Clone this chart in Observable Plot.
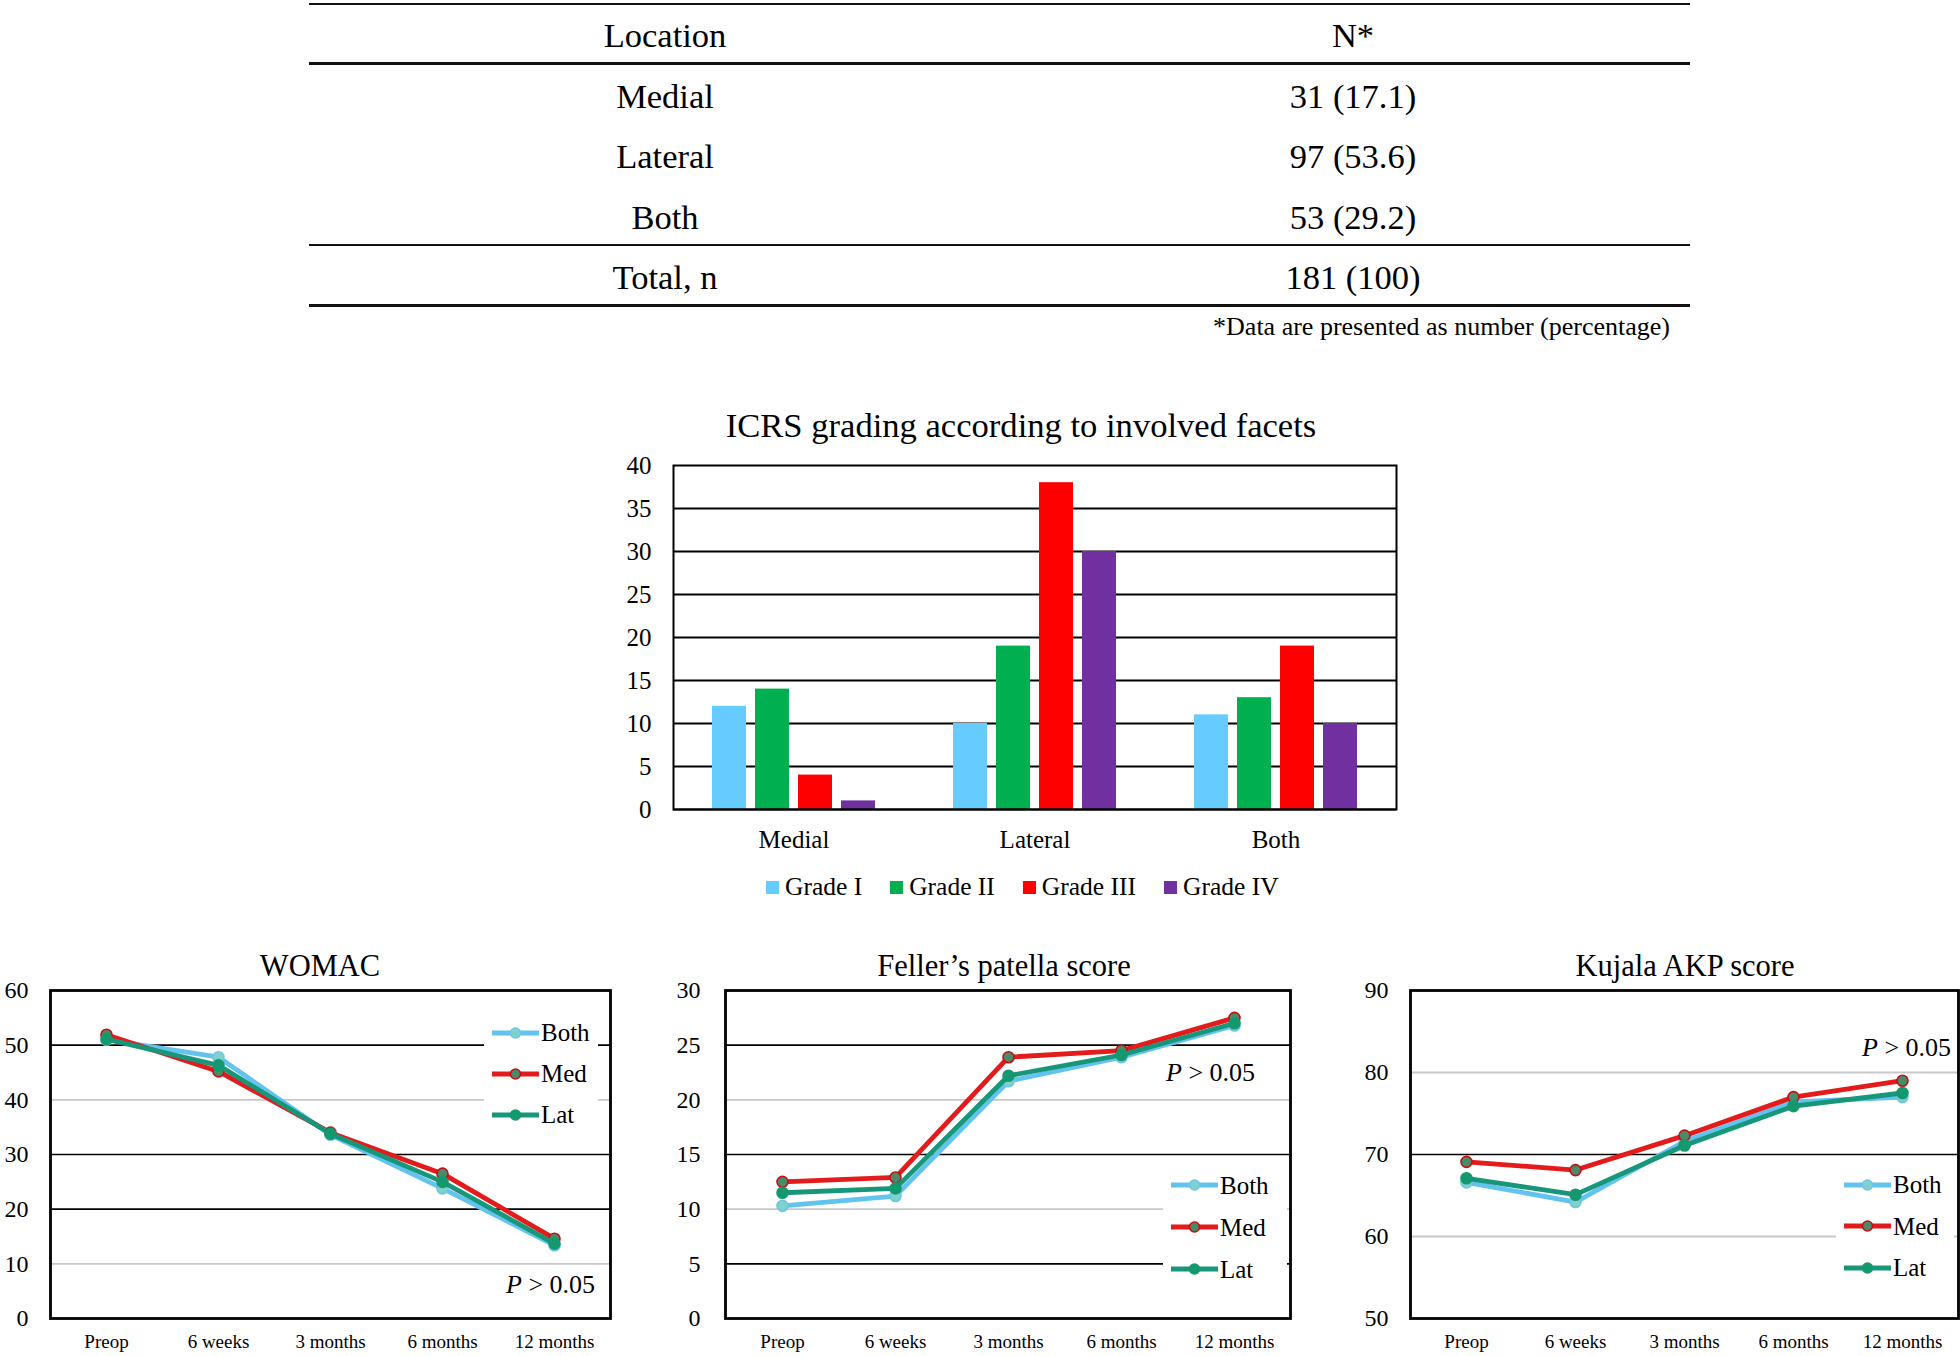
<!DOCTYPE html>
<html><head><meta charset="utf-8">
<script src="https://cdn.jsdelivr.net/npm/d3@7"></script>
<script src="https://cdn.jsdelivr.net/npm/@observablehq/plot@0.6"></script>
<style>
body{margin:0;background:#fff;font-family:"Liberation Serif","Times New Roman",serif;color:#000;}
#root{position:relative;width:1960px;height:1356px;overflow:hidden;background:#fff;}
.abs{position:absolute;}
.hline{position:absolute;background:#111;}
.ctext{position:absolute;transform:translate(-50%,-50%);white-space:nowrap;}
.legendbox{position:absolute;background:#fff;}
.lrow{display:flex;align-items:center;font-size:25px;line-height:1;}
.ptext{position:absolute;font-size:26px;white-space:nowrap;transform:translateY(-50%);}
.plotwrap{position:absolute;}
</style></head><body><div id="root"></div><script>
// ---------- DATA ----------
const tableHeaders = ["Location", "N*"];
const tableLocations = ["Medial", "Lateral", "Both"];
const tableN = ["31 (17.1)", "97 (53.6)", "53 (29.2)"];
const tableTotal = ["Total, n", "181 (100)"];
const tableNote = "*Data are presented as number (percentage)";

const icrsTitle = "ICRS grading according to involved facets";
const facetsLoc = ["Medial", "Lateral", "Both"];
const grades = ["Grade I", "Grade II", "Grade III", "Grade IV"];
const gradeColors = ["#66ccff", "#00b050", "#ff0000", "#7030a0"];
const icrsMedial = [12, 14, 4, 1];
const icrsLateral = [10, 19, 38, 30];
const icrsBoth = [11, 13, 19, 10];
const icrsTicks = [0, 5, 10, 15, 20, 25, 30, 35, 40];
const icrsGrid = [5, 10, 15, 20, 25, 30, 35];

const timepoints = ["Preop", "6 weeks", "3 months", "6 months", "12 months"];
const groups = ["Both", "Med", "Lat"];
const groupLine = ["#62c3ee", "#e31b1b", "#17967a"];
const groupMarkFill = ["#80d0cc", "#4b8a68", "#14996e"];
const groupMarkStroke = ["#6cc6ea", "#c41010", "#14996e"];

const womacBoth = [51.0, 47.8, 33.6, 23.8, 13.4];
const womacMed = [51.9, 45.2, 34.0, 26.5, 14.6];
const womacLat = [51.1, 46.3, 33.8, 25.0, 13.7];
const womacTicks = [0, 10, 20, 30, 40, 50, 60];

const fellerBoth = [10.3, 11.2, 21.7, 23.9, 26.8];
const fellerMed = [12.5, 12.9, 23.9, 24.5, 27.5];
const fellerLat = [11.5, 11.9, 22.2, 24.1, 27.0];
const fellerTicks = [0, 5, 10, 15, 20, 25, 30];

const kujalaBoth = [66.6, 64.2, 71.6, 76.4, 77.0];
const kujalaMed = [69.1, 68.1, 72.3, 77.0, 79.0];
const kujalaLat = [67.1, 65.1, 71.1, 75.9, 77.5];
const kujalaTicks = [50, 60, 70, 80, 90];

// ---------- HELPERS ----------
const root = document.getElementById("root");
function add(tag, cls, style, html) {
  const e = document.createElement(tag);
  if (cls) e.className = cls;
  Object.assign(e.style, style || {});
  if (html != null) e.innerHTML = html;
  root.appendChild(e);
  return e;
}

// ---------- TABLE ----------
[[3, 2], [62, 3], [244, 2], [304, 3]].forEach(([y, h]) =>
  add("div", "hline", {left: "309px", top: y + "px", width: "1381px", height: h + "px"}));
const colX = [665, 1353];
const rowY = [35, 96, 156, 217, 277];
const rows = [tableHeaders, ...tableLocations.map((l, i) => [l, tableN[i]]), tableTotal];
rows.forEach((r, ri) => r.forEach((t, ci) =>
  add("div", "ctext", {left: colX[ci] + "px", top: rowY[ri] + "px", fontSize: "34.5px"}, t)));
add("div", "abs", {right: (1960 - 1670) + "px", top: "312px", fontSize: "26px", whiteSpace: "nowrap"}, tableNote);

// ---------- BAR CHART ----------
add("div", "ctext", {left: "1021px", top: "425px", fontSize: "34.6px"}, icrsTitle);
const icrsValues = [icrsMedial, icrsLateral, icrsBoth];
const barData = facetsLoc.flatMap((loc, i) => grades.map((g, j) => ({loc, grade: g, value: icrsValues[i][j]})));
const bar = Plot.plot({
  width: 830, height: 420,
  marginLeft: 72, marginRight: 34, marginTop: 25, marginBottom: 51,
  style: {fontFamily: "Liberation Serif, serif", fontSize: "25px", color: "#000", background: "transparent"},
  fx: {domain: facetsLoc, padding: 0, label: null, axis: "bottom", tickSize: 0, tickPadding: 21},
  x: {domain: grades, paddingInner: 0.2, paddingOuter: 0.86, axis: null},
  y: {domain: [0, 40], ticks: icrsTicks, label: null, tickSize: 0, tickPadding: 22},
  color: {domain: grades, range: gradeColors},
  marks: [
    Plot.ruleY(icrsGrid, {stroke: "#000", strokeWidth: 1.8}),
    Plot.barY(barData, {fx: "loc", x: "grade", y: "value", fill: "grade"}),
    Plot.ruleY([0], {stroke: "#000", strokeWidth: 2}),
    Plot.frame({facet: "super", stroke: "#000", strokeWidth: 2})
  ]
});
const bw = add("div", "plotwrap", {left: "600px", top: "440px"});
bw.appendChild(bar);

// legend for bars
const bl = add("div", "abs", {left: "766px", top: "870px", height: "34px", display: "flex", alignItems: "center", fontSize: "25.5px", whiteSpace: "nowrap"});
grades.forEach((g, i) => {
  const it = document.createElement("div");
  it.style.cssText = "display:flex;align-items:center;margin-right:" + (i < grades.length - 1 ? 28 : 0) + "px";
  it.innerHTML = `<span style="display:inline-block;width:13px;height:13px;background:${gradeColors[i]};margin-right:6px"></span>${g}`;
  bl.appendChild(it);
});

// ---------- LINE CHARTS ----------
function lineChart(cfg) {
  const seriesVals = cfg.series;
  const marks = [
    Plot.ruleY(cfg.lightGrid, {stroke: "#c8c8c8", strokeWidth: 1.8}),
    Plot.ruleY(cfg.darkGrid, {stroke: "#000", strokeWidth: 1.6}),
  ];
  groups.forEach((g, gi) => {
    const data = timepoints.map((t, ti) => ({time: t, value: seriesVals[gi][ti]}));
    marks.push(Plot.line(data, {x: "time", y: "value", stroke: groupLine[gi], strokeWidth: 4.8}));
    marks.push(Plot.dot(data, {x: "time", y: "value", r: 5.5, fill: groupMarkFill[gi], stroke: groupMarkStroke[gi], strokeWidth: 1.6}));
  });
  marks.push(Plot.axisX({tickSize: 0, tickPadding: 16, fontSize: 19, label: null}));
  marks.push(Plot.axisY({ticks: cfg.ticks, tickSize: 0, tickPadding: cfg.tickPad, fontSize: 24, label: null}));
  marks.push(Plot.frame({stroke: "#000", strokeWidth: 2.8}));
  const p = Plot.plot({
    width: cfg.width, height: 381,
    marginLeft: cfg.ml, marginRight: cfg.mr, marginTop: 15, marginBottom: 38,
    style: {fontFamily: "Liberation Serif, serif", color: "#000", background: "transparent"},
    x: {type: "point", domain: timepoints, padding: 0.5},
    y: {domain: cfg.domain},
    marks
  });
  const w = add("div", "plotwrap", {left: cfg.left + "px", top: "975px"});
  w.appendChild(p);
  add("div", "ctext", {left: cfg.titleX + "px", top: "966px", fontSize: "30.5px"}, cfg.title);
  // legend overlay
  const lb = add("div", "legendbox", {left: cfg.legLeft + "px", top: cfg.legTop + "px", width: cfg.legW + "px", paddingLeft: "8px"});
  groups.forEach((g, gi) => {
    const r = document.createElement("div");
    r.className = "lrow";
    r.style.height = cfg.legRow + "px";
    r.innerHTML = `<svg width="47" height="16" style="margin-right:2px"><line x1="0" x2="47" y1="8" y2="8" stroke="${groupLine[gi]}" stroke-width="4.8"/><circle cx="23.5" cy="8" r="5" fill="${groupMarkFill[gi]}" stroke="${groupMarkStroke[gi]}" stroke-width="1.6"/></svg>${g}`;
    lb.appendChild(r);
  });
  add("div", "ptext", {left: cfg.pX + "px", top: cfg.pY + "px"}, "<i>P</i> &gt; 0.05");
}

lineChart({title: "WOMAC", titleX: 320, left: 0, width: 625, ml: 50, mr: 15, tickPad: 22,
  domain: [0, 60], ticks: womacTicks, darkGrid: [20, 30, 50], lightGrid: [10, 40],
  series: [womacBoth, womacMed, womacLat],
  legLeft: 484, legTop: 1012, legW: 106, legRow: 41, pX: 506, pY: 1285});

lineChart({title: "Feller\u2019s patella score", titleX: 1004, left: 660, width: 650, ml: 65, mr: 20, tickPad: 25,
  domain: [0, 30], ticks: fellerTicks, darkGrid: [5, 15, 25], lightGrid: [10, 20],
  series: [fellerBoth, fellerMed, fellerLat],
  legLeft: 1163, legTop: 1164, legW: 116, legRow: 42, pX: 1166, pY: 1073});

lineChart({title: "Kujala AKP score", titleX: 1685, left: 1340, width: 620, ml: 70, mr: 2, tickPad: 22,
  domain: [50, 90], ticks: kujalaTicks, darkGrid: [70], lightGrid: [60, 80],
  series: [kujalaBoth, kujalaMed, kujalaLat],
  legLeft: 1836, legTop: 1164, legW: 110, legRow: 41.5, pX: 1862, pY: 1048});
</script></body></html>
